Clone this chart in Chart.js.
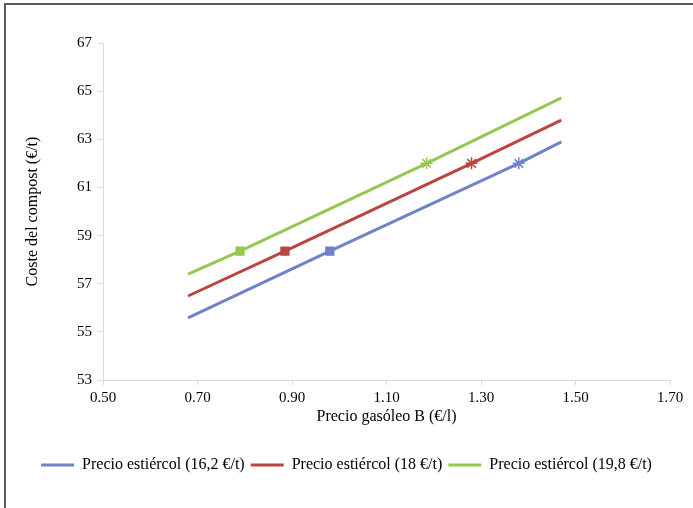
<!DOCTYPE html>
<html>
<head>
<meta charset="utf-8">
<script src="https://cdn.jsdelivr.net/npm/chart.js@4"></script>
<style>
  html, body { margin: 0; padding: 0; background: #fff; }
  #wrap { position: relative; width: 693px; height: 508px; overflow: hidden; }
  #frame { position: absolute; left: 4px; top: 3px; width: 800px; height: 600px;
           border-top: 2px solid #5a5a5a; border-left: 2px solid #5a5a5a; pointer-events: none; }
</style>
</head>
<body>
<div id="wrap">
  <canvas id="costChart" width="693" height="508"></canvas>
  <div id="frame"></div>
</div>
<script>
// Coste del compost vs precio gasóleo B, for three manure prices
const seriesLabels = ['Precio estiércol (16,2 €/t)', 'Precio estiércol (18 €/t)', 'Precio estiércol (19,8 €/t)'];
const seriesColors = ['#7083c8', '#bb4542', '#95c852'];

const bajoX = [0.68, 0.98, 1.38, 1.47];
const bajoY = [55.58, 58.35, 62.0, 62.89];
const medioX = [0.68, 0.885, 1.28, 1.47];
const medioY = [56.49, 58.35, 62.0, 63.80];
const altoX = [0.68, 0.79, 1.185, 1.47];
const altoY = [57.40, 58.35, 62.0, 64.72];

const xTicks = [0.50, 0.70, 0.90, 1.10, 1.30, 1.50, 1.70];
const yTicks = [53, 55, 57, 59, 61, 63, 65, 67];

const markerStyles = ['circle', 'rect', 'star', 'circle'];
const markerSizes = [0, 5.5, 6, 0];

function toPoints(xs, ys) {
  return xs.map((x, i) => ({ x: x, y: ys[i] }));
}

function makeDataset(i, xs, ys) {
  return {
    label: seriesLabels[i],
    data: toPoints(xs, ys),
    showLine: true,
    borderColor: seriesColors[i],
    backgroundColor: seriesColors[i],
    borderWidth: 3,
    pointStyle: markerStyles,
    pointRadius: markerSizes,
    pointBorderWidth: 1.5,
    pointBorderColor: seriesColors[i],
    pointBackgroundColor: seriesColors[i],
    pointHoverRadius: markerSizes,
  };
}

const serif = "'Liberation Serif', 'Times New Roman', serif";
const axisGray = '#d9d9d9';

new Chart(document.getElementById('costChart'), {
  type: 'scatter',
  data: {
    datasets: [
      makeDataset(0, bajoX, bajoY),
      makeDataset(1, medioX, medioY),
      makeDataset(2, altoX, altoY),
    ]
  },
  options: {
    responsive: false,
    animation: false,
    layout: { padding: { left: 23, right: 23, top: 43, bottom: 25 } },
    plugins: {
      tooltip: { enabled: false },
      legend: {
        position: 'bottom',
        labels: {
          color: '#000',
          font: { family: serif, size: 16 },
          boxWidth: 33,
          boxHeight: 3,
          padding: 6,
          generateLabels: function(chart) {
            return chart.data.datasets.map((ds, i) => ({
              text: ds.label,
              fillStyle: ds.borderColor,
              strokeStyle: ds.borderColor,
              lineWidth: 0,
              hidden: false,
              datasetIndex: i,
            }));
          }
        }
      }
    },
    scales: {
      x: {
        type: 'linear',
        min: 0.5,
        max: 1.7,
        afterBuildTicks: function(scale) {
          scale.ticks = xTicks.map(v => ({ value: v }));
        },
        afterFit: function(scale) { scale.height = 71; },
        border: { display: true, color: axisGray, width: 1 },
        grid: { drawOnChartArea: false, color: axisGray, tickLength: 5 },
        ticks: {
          color: '#000',
          padding: 4,
          maxRotation: 0,
          font: { family: serif, size: 15 },
          callback: v => v.toFixed(2)
        },
        title: {
          display: true,
          text: 'Precio gasóleo B (€/l)',
          color: '#000',
          font: { family: serif, size: 16 },
          padding: { top: 0, bottom: 25 }
        }
      },
      y: {
        type: 'linear',
        min: 53,
        max: 67,
        afterBuildTicks: function(scale) {
          scale.ticks = yTicks.map(v => ({ value: v }));
        },
        afterFit: function(scale) { scale.width = 80; },
        border: { display: true, color: axisGray, width: 1 },
        grid: { drawOnChartArea: false, color: axisGray, tickLength: 5 },
        ticks: {
          color: '#000',
          padding: 6,
          font: { family: serif, size: 15 }
        },
        title: {
          display: true,
          text: 'Coste del compost (€/t)',
          color: '#000',
          font: { family: serif, size: 16 },
          padding: { top: 0, bottom: 0 }
        }
      }
    }
  }
});
</script>
</body>
</html>
